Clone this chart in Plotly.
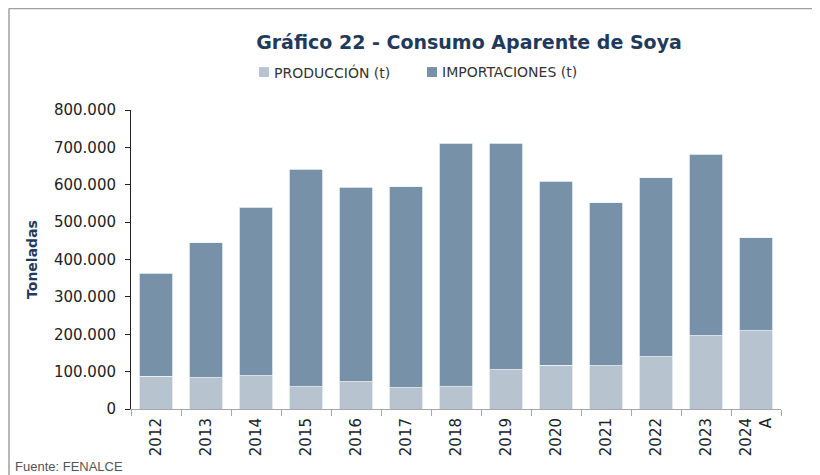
import plotly.graph_objects as go

years = ["2012", "2013", "2014", "2015", "2016", "2017", "2018", "2019", "2020", "2021", "2022", "2023", "2024<br>A"]
produccion = [87000, 84000, 89500, 60000, 72600, 56600, 60000, 105500, 117000, 116000, 140000, 196000, 209700]
total = [363800, 444700, 540000, 641600, 593500, 594300, 711000, 711000, 609500, 551600, 618400, 681600, 458000]
importaciones = [t - p for t, p in zip(total, produccion)]
yticks = [0, 100000, 200000, 300000, 400000, 500000, 600000, 700000, 800000]
series_names = ["PRODUCCIÓN (t)", "IMPORTACIONES (t)"]
series_colors = ["#B7C4CF", "#7792A8"]

# page has an 8px body margin; work in reference pixels and shift
OFF = 8
W, H = 812, 467
L, R, T, B = 123, 39, 102, 65.5
pw, ph = W - L - R, H - T - B

def px_x(x):
    return (x - OFF - L) / pw

def px_y(y):
    return (H - B - (y - OFF)) / ph

FONT = "DejaVu Sans"
fig = go.Figure()
fig.add_trace(go.Bar(x=years, y=produccion, name=series_names[0], showlegend=False,
                     marker=dict(color=series_colors[0], line=dict(color="#EEF2F5", width=0.8))))
fig.add_trace(go.Bar(x=years, y=importaciones, name=series_names[1], showlegend=False,
                     marker=dict(color=series_colors[1], line=dict(color="#EEF2F5", width=0.8))))

fig.update_layout(
    width=W, height=H,
    barmode="stack", bargap=0.33,
    separators=",.",
    plot_bgcolor="white", paper_bgcolor="white",
    margin=dict(l=L, r=R, t=T, b=B, autoexpand=False),
    font=dict(family=FONT, color="#333333", size=15),
    title=dict(text="<b>Gráfico 22 - Consumo Aparente de Soya</b>",
               x=(469 - OFF) / W, xref="container", xanchor="center",
               yref="container", y=1 - (42 - OFF) / H, yanchor="middle",
               font=dict(family=FONT, size=19, color="#1F3A5C")),
    showlegend=False,
)
fig.update_xaxes(
    type="category", tickangle=-90, tickson="boundaries",
    showline=True, linecolor="#A6A6A6", linewidth=1,
    ticks="outside", ticklen=6, tickcolor="#A6A6A6",
    tickfont=dict(family=FONT, size=15, color="#222222"),
    ticklabelstandoff=2,
    showgrid=False,
)
fig.update_yaxes(
    range=[0, 800000], tickvals=yticks, tickformat=",.0f",
    showline=True, linecolor="#222222", linewidth=1,
    ticks="outside", ticklen=5, tickcolor="#222222",
    tickfont=dict(family=FONT, size=15, color="#222222"),
    ticklabelstandoff=6,
    showgrid=False, zeroline=False,
    title=dict(text="<b>Toneladas</b>", standoff=13,
               font=dict(family=FONT, size=14, color="#1F3A5C")),
)

# legend drawn manually to match the compact layout
leg_y = 72
leg_items = [(259, 272), (427, 440)]
for (sx, tx), name, col in zip(leg_items, series_names, series_colors):
    fig.add_shape(type="rect", xref="paper", yref="paper",
                  x0=px_x(sx), x1=px_x(sx + 10), y0=px_y(leg_y + 5), y1=px_y(leg_y - 5),
                  fillcolor=col, line=dict(width=0))
    fig.add_annotation(text=name, xref="paper", yref="paper",
                       x=px_x(tx), y=px_y(leg_y), xanchor="left", yanchor="middle",
                       showarrow=False, font=dict(family=FONT, size=14, color="#333333"))

fig.add_annotation(text="Fuente: FENALCE", xref="paper", yref="paper",
                   x=px_x(13), y=px_y(458), xanchor="left", yanchor="top",
                   showarrow=False, font=dict(family="Liberation Sans", size=13, color="#555555"))

fig.add_shape(type="line", xref="paper", yref="paper",
              x0=px_x(9), x1=px_x(830), y0=px_y(8), y1=px_y(8),
              line=dict(color="#A0A0A0", width=2))
fig.add_shape(type="line", xref="paper", yref="paper",
              x0=px_x(9), x1=px_x(9), y0=px_y(8), y1=px_y(490),
              line=dict(color="#A0A0A0", width=1.5))

fig.write_html("out.html")
